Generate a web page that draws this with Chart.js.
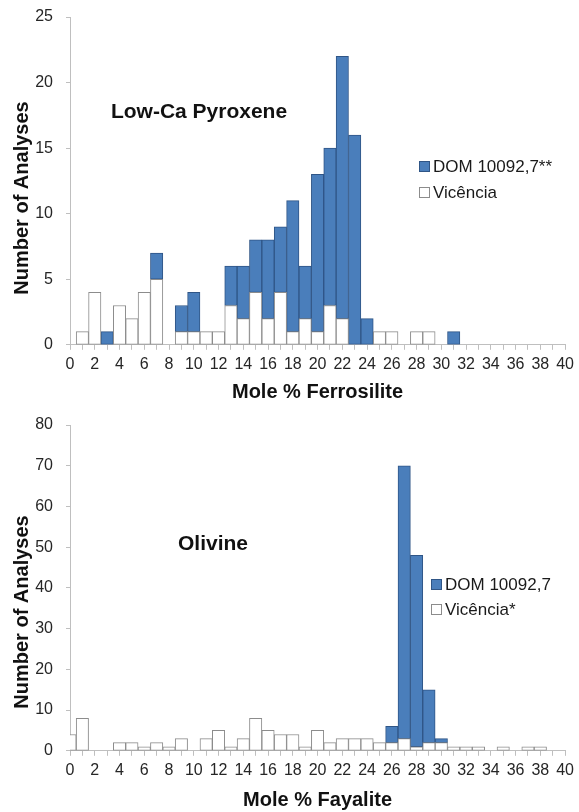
<!DOCTYPE html>
<html><head><meta charset="utf-8">
<script src="https://cdn.jsdelivr.net/npm/chart.js@4/dist/chart.umd.min.js"></script>
<style>
html,body{margin:0;padding:0;background:#fff;}
#wrap{width:579px;height:812px;position:relative;overflow:hidden;}
#c1{position:absolute;left:0;top:0;}
#c2{position:absolute;left:0;top:404px;}
</style></head><body>
<div id="wrap">
<canvas id="c1" width="579" height="404"></canvas>
<canvas id="c2" width="579" height="408"></canvas>
</div>
<script>
// ---- data ----
const categories = [0,1,2,3,4,5,6,7,8,9,10,11,12,13,14,15,16,17,18,19,20,21,22,23,24,25,26,27,28,29,30,31,32,33,34,35,36,37,38,39,40];
const xTickLabels = ['0','','2','','4','','6','','8','','10','','12','','14','','16','','18','','20','','22','','24','','26','','28','','30','','32','','34','','36','','38','','40'];

// Low-Ca pyroxene (Mole % Ferrosilite)
const pyxVicencia = [0,1,4,0,3,2,4,5,0,1,1, 1,1,3,2,4,2,4,1,2,1, 3,2,0,0,1,1,0,1,1,0, 0,0,0,0,0,0,0,0,0,0];
const pyxDom      = [0,0,0,1,0,0,0,2,0,2,3, 0,0,3,4,4,6,5,10,4,12, 12,20,16,2,0,0,0,0,0,0, 1,0,0,0,0,0,0,0,0,0];
const pyxYTicks = [0,5,10,15,20,25];

// Olivine (Mole % Fayalite)
const olvVicencia = [4,8,0,0,2,2,1,2,1,3,0, 3,5,1,3,8,5,4,4,1,5, 2,3,3,3,2,2,3,1,2,2, 1,1,1,0,1,0,1,1,0,0];
const olvDom      = [0,0,0,0,0,0,0,0,0,0,0, 0,0,0,0,0,0,0,0,0,0, 0,0,0,0,0,4,67,47,13,1, 0,0,0,0,0,0,0,0,0,0];
const olvYTicks = [0,10,20,30,40,50,60,70,80];

const panel1 = { title: 'Low-Ca Pyroxene', xTitle: 'Mole % Ferrosilite', yTitle: 'Number of Analyses', domLabel: 'DOM 10092,7**', vicLabel: 'Vicência' };
const panel2 = { title: 'Olivine', xTitle: 'Mole % Fayalite', yTitle: 'Number of Analyses', domLabel: 'DOM 10092,7', vicLabel: 'Vicência*' };

// ---- styling ----
const FONT = "'Liberation Sans', Arial, Helvetica, sans-serif";
const BLUE = '#4a7ebb', BLUE_EDGE = '#2f5586';
const WHITE = '#ffffff', WHITE_EDGE = '#8c8c8c';
const AXIS = '#bfbfbf';

const decorPlugin = {
  id: 'decor',
  afterDraw(chart, args, o) {
    const ctx = chart.ctx;
    ctx.save();
    ctx.fillStyle = '#111';
    ctx.font = "bold 21px " + FONT;
    ctx.textAlign = 'center';
    ctx.textBaseline = 'middle';
    ctx.fillText(o.title, o.titleX, o.titleY);
    ctx.save();
    ctx.translate(o.yTitleX, o.yTitleY);
    ctx.rotate(-Math.PI / 2);
    ctx.font = "bold 20px " + FONT;
    ctx.fillText(o.yTitle, 0, 0);
    ctx.restore();
    const ds = chart.data.datasets.slice().reverse();
    ctx.font = "17px " + FONT;
    ctx.textAlign = 'left';
    ds.forEach((d, i) => {
      const y = o.legendY + i * o.legendGap;
      ctx.fillStyle = d.backgroundColor;
      ctx.fillRect(o.legendX + 0.5, y - 5 + 0.5, 10, 10);
      ctx.strokeStyle = d.borderColor;
      ctx.lineWidth = 1;
      ctx.strokeRect(o.legendX + 0.5, y - 5 + 0.5, 10, 10);
      ctx.fillStyle = '#1a1a1a';
      ctx.fillText(d.label, o.legendX + 14, y + 1);
    });
    ctx.restore();
  }
};

function makeChart(id, vic, dom, yTicks, p, deco, padTop, xTitlePad) {
  return new Chart(document.getElementById(id), {
    type: 'bar',
    data: {
      labels: categories,
      datasets: [
        { label: p.vicLabel, data: vic, backgroundColor: WHITE, borderColor: WHITE_EDGE, borderWidth: 1, borderSkipped: false },
        { label: p.domLabel, data: dom, backgroundColor: BLUE, borderColor: BLUE_EDGE, borderWidth: 1, borderSkipped: false }
      ]
    },
    options: {
      responsive: false,
      animation: false,
      devicePixelRatio: 1,
      layout: { padding: { top: padTop, left: 0, right: 11, bottom: 0 } },
      datasets: { bar: { barPercentage: 1, categoryPercentage: 1 } },
      plugins: {
        legend: { display: false },
        tooltip: { enabled: false },
        decor: Object.assign({ title: p.title, yTitle: p.yTitle }, deco)
      },
      scales: {
        x: {
          type: 'category',
          stacked: true,
          offset: false,
          grid: { offset: false, drawOnChartArea: false, drawTicks: true, tickLength: 5, color: AXIS },
          border: { display: true, color: AXIS, width: 1 },
          ticks: {
            autoSkip: false, maxRotation: 0, minRotation: 0, padding: 5,
            color: '#262626', font: { family: FONT, size: 16 },
            callback: (v, i) => xTickLabels[i]
          },
          title: { display: true, text: p.xTitle, color: '#111', font: { family: FONT, size: 20, weight: 'bold' }, padding: { top: xTitlePad, bottom: 0 } }
        },
        y: {
          stacked: true,
          min: yTicks[0], max: yTicks[yTicks.length - 1],
          afterFit: (s) => { s.width = 70; s.paddingTop = 0; s.paddingBottom = 0; },
          afterBuildTicks: (s) => { s.ticks = yTicks.map(v => ({ value: v })); },
          grid: { drawOnChartArea: false, drawTicks: true, tickLength: 4, color: AXIS },
          border: { display: true, color: AXIS, width: 1 },
          ticks: { padding: 13, color: '#262626', font: { family: FONT, size: 16 } }
        }
      }
    },
    plugins: [decorPlugin]
  });
}

makeChart('c1', pyxVicencia, pyxDom, pyxYTicks, panel1,
  { titleX: 199, titleY: 112, yTitleX: 22, yTitleY: 198, legendX: 419, legendY: 166, legendGap: 26 }, 17, 1);
makeChart('c2', olvVicencia, olvDom, olvYTicks, panel2,
  { titleX: 213, titleY: 140, yTitleX: 22, yTitleY: 208, legendX: 431, legendY: 180, legendGap: 25 }, 21, 3);
</script>
</body></html>
